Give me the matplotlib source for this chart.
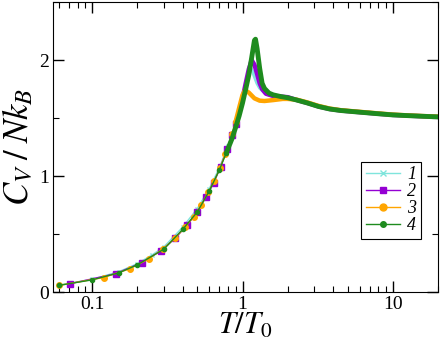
import numpy as np
import matplotlib
matplotlib.use("Agg")
import matplotlib.pyplot as plt
from matplotlib.lines import Line2D

plt.rcParams['font.family'] = ['Liberation Serif', 'DejaVu Serif']
plt.rcParams['mathtext.fontset'] = 'stix'

# series 1 (cyan, x markers)
t1 = [0.06, 0.1, 0.15, 0.2, 0.25, 0.3, 0.4, 0.5, 0.6, 0.7, 0.8, 0.9, 1.0, 1.05, 1.1, 1.13, 1.17,
      1.2, 1.25, 1.3, 1.4, 1.5, 1.7, 2.0, 2.3, 2.7, 3.2, 3.8, 4.5, 5.5, 6.5, 8, 10, 13, 16, 20]
c1 = [0.06, 0.11, 0.175, 0.245, 0.32, 0.39, 0.56, 0.72, 0.89, 1.07, 1.26, 1.44, 1.64, 1.76, 1.88, 1.93, 1.90,
      1.86, 1.80, 1.76, 1.72, 1.70, 1.69, 1.68, 1.655, 1.63, 1.60, 1.578, 1.565, 1.555, 1.547, 1.537, 1.527, 1.52, 1.515, 1.51]

# series 2 (purple squares)
t2 = [0.0714, 0.143, 0.214, 0.286, 0.357, 0.429, 0.5, 0.571, 0.643, 0.714, 0.786, 0.85, 0.9, 0.95, 1.0, 1.05,
      1.1, 1.15, 1.2, 1.25, 1.3, 1.35, 1.43, 1.6, 1.8, 2.0, 2.3, 2.7, 3.2, 3.8, 4.5, 5.5, 6.5, 8, 10, 13, 16, 20]
c2 = [0.072, 0.158, 0.254, 0.355, 0.465, 0.578, 0.69, 0.82, 0.94, 1.08, 1.23, 1.35, 1.45, 1.56, 1.67, 1.80,
      1.92, 2.00, 1.96, 1.88, 1.80, 1.75, 1.71, 1.69, 1.685, 1.68, 1.655, 1.63, 1.60, 1.578, 1.565, 1.555, 1.547, 1.537, 1.527, 1.52, 1.515, 1.51]

# series 3 (orange circles)
t3 = [0.06, 0.119, 0.178, 0.237, 0.296, 0.355, 0.414, 0.473, 0.532, 0.591, 0.65, 0.709, 0.768, 0.85, 0.9, 0.95,
      1.0, 1.04, 1.1, 1.2, 1.3, 1.4, 1.6, 1.85, 2.0, 2.3, 2.7, 3.2, 3.8, 4.5, 5.5, 6.5, 8, 10, 13, 16, 20]
c3 = [0.057, 0.125, 0.20, 0.285, 0.373, 0.462, 0.558, 0.65, 0.75, 0.86, 0.96, 1.07, 1.19, 1.36, 1.47, 1.59,
      1.70, 1.74, 1.72, 1.67, 1.65, 1.647, 1.655, 1.665, 1.665, 1.658, 1.635, 1.605, 1.582, 1.568, 1.558, 1.55, 1.54, 1.53, 1.522, 1.517, 1.512]

# series 4 (green dots)
t4 = [0.06, 0.1, 0.15, 0.2, 0.3, 0.4, 0.5, 0.6, 0.7, 0.78, 0.85, 0.9, 0.95, 1.0, 1.05, 1.1, 1.15, 1.2, 1.22,
      1.25, 1.3, 1.35, 1.4, 1.5, 1.6, 1.8, 2.0, 2.3, 2.7, 3.2, 3.8, 4.5, 5.5, 6.5, 8, 10, 13, 16, 20]
c4 = [0.057, 0.105, 0.165, 0.235, 0.37, 0.54, 0.69, 0.87, 1.05, 1.2, 1.32, 1.42, 1.52, 1.63, 1.75, 1.87, 2.02, 2.17, 2.18,
      2.10, 1.93, 1.80, 1.755, 1.715, 1.70, 1.685, 1.675, 1.655, 1.63, 1.60, 1.578, 1.565, 1.555, 1.547, 1.537, 1.527, 1.52, 1.515, 1.51]

labels = ['1', '2', '3', '4']
colors = ['#7fe5dc', '#9400d3', '#ffa500', '#1e8b1e']
markers = ['x', 's', 'o', 'o']
msizes = [3, 4, 4, 3]
band_start = [0.95, 0.88, 0.88, 0.78]
band_width = [2.5, 3.2, 3.2, 3.5]

fig = plt.figure(figsize=(4.43, 3.46), dpi=100)
ax = fig.add_axes([0.12, 0.156, 0.869, 0.838])

series = [(t1, c1), (t2, c2), (t3, c3), (t4, c4)]
for (t, c), col, mk, ms, t0, bw in zip(series, colors, markers, msizes, band_start, band_width):
    t = np.array(t)
    c = np.array(c)
    low = np.where(t < t0 + 0.05)[0]
    high = t >= t0
    ax.plot(t, c, color=col, lw=1, marker=mk, ms=ms, markevery=list(low), mew=1)
    # dense data near and above T0 looks like a thick band
    ax.plot(t[high], c[high], color=col, lw=bw, solid_capstyle='round', solid_joinstyle='round')

ax.set_xscale('log')
ax.set_xlim(0.055, 20)
ax.set_ylim(0, 2.5)
ax.set_yticks([0, 1, 2])
ax.set_yticks([0.5, 1.5, 2.5], minor=True)
ax.set_xticks([0.1, 1, 10])
ax.set_xticklabels(['0.1', '1', '10'])
ax.set_yticklabels(['0', '1', '2'])
ax.tick_params(which='both', direction='in', top=True, right=True, labelsize=14)
ax.tick_params(which='major', length=8, width=1, pad=3)
ax.tick_params(which='minor', length=4, width=0.8)

ax.set_xlabel(r'$T/T_{\mathit{0}}$', fontsize=22, labelpad=-1)
ax.set_ylabel(r'$C_V\;/\;Nk_B$', fontsize=25, labelpad=2)

handles = [Line2D([], [], color=col, lw=1, marker=mk, ms=ms + 1) for col, mk, ms in zip(colors, markers, msizes)]
leg = ax.legend(handles, labels, loc='center left', bbox_to_anchor=(0.80, 0.317),
                prop={'family': 'Liberation Serif', 'style': 'italic', 'size': 13},
                fancybox=False, edgecolor='black', framealpha=1, handlelength=1.9,
                handletextpad=0.4, labelspacing=0.0, borderpad=0.25, borderaxespad=0)
leg.get_frame().set_linewidth(0.8)

fig.savefig('out.png', dpi=100)
